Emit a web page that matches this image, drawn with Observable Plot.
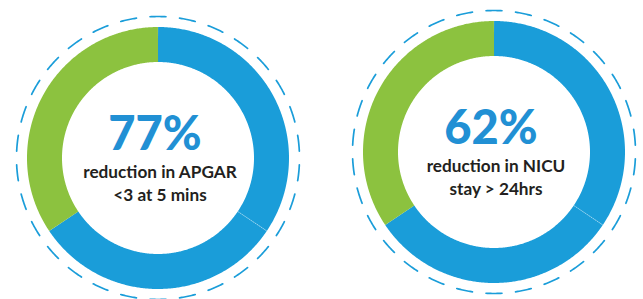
<!DOCTYPE html>
<html>
<head>
<meta charset="utf-8">
<script src="https://cdn.jsdelivr.net/npm/d3@7"></script>
<script src="https://cdn.jsdelivr.net/npm/@observablehq/plot@0.6"></script>
<style>
  html, body { margin: 0; padding: 0; background: #ffffff; }
  #chart svg { display: block; }
</style>
</head>
<body>
<div id="chart"></div>
<script>
// ---- data ----
const donutIds = ["apgar", "nicu"];
const percentLabels = ["77%", "62%"];
const captionLine1 = ["reduction in APGAR", "reduction in NICU"];
const captionLine2 = ["<3 at 5 mins", "stay > 24hrs"];
const segmentNames = ["upper blue", "lower blue", "green"];
const segmentColors = ["#1a9dd9", "#1a9dd9", "#8cc23f"];
const segmentShares = [
  [34.4, 31.2, 34.4],
  [34.4, 31.2, 34.4]
];

// ---- layout (pixels) ----
const W = 643, H = 299;
const centers = [[157.5, 157.5], [493.5, 151.5]];
const rInner = 96, rOuter = 131, rDash = 141.5;
const rMid = (rInner + rOuter) / 2;
const ringWidth = rOuter - rInner;

const pt = (c, r, deg) => {
  const a = deg * Math.PI / 180;
  return {x: c[0] + r * Math.sin(a), y: c[1] - r * Math.cos(a)};
};

// ring segments as thick arcs
const arcRows = [];
const sepRows = [];
donutIds.forEach((id, i) => {
  const total = d3.sum(segmentShares[i]);
  let acc = 0;
  segmentShares[i].forEach((v, j) => {
    const a0 = acc / total * 360, a1 = (acc + v) / total * 360;
    const n = Math.max(2, Math.ceil(a1 - a0) * 2);
    for (let k = 0; k <= n; k++) {
      const p = pt(centers[i], rMid, a0 + (a1 - a0) * k / n);
      arcRows.push({key: id + "-" + j, color: segmentColors[j], ...p});
    }
    if (j === 0) {
      const p0 = pt(centers[i], rInner, a1), p1 = pt(centers[i], rOuter, a1);
      sepRows.push({x1: p0.x, y1: p0.y, x2: p1.x, y2: p1.y});
    }
    acc += v;
  });
});

// dashed outer circles
const dashRows = [];
const nDash = 30;
const circ = 2 * Math.PI * rDash;
const period = circ / nDash;
const dashLen = 16;
donutIds.forEach((id, i) => {
  const start = -(dashLen / 2) / rDash * 180 / Math.PI;
  for (let k = 0; k <= 720; k++) {
    dashRows.push({key: id, ...pt(centers[i], rDash, start + k / 2)});
  }
});

const textRows = donutIds.map((id, i) => ({
  id, pct: percentLabels[i], l1: captionLine1[i], l2: captionLine2[i],
  cx: centers[i][0], cy: centers[i][1]
}));

const chart = Plot.plot({
  width: W, height: H,
  margin: 0,
  x: {domain: [0, W], axis: null},
  y: {domain: [0, H], reverse: true, axis: null},
  style: {background: "#ffffff"},
  marks: [
    Plot.line(dashRows, {x: "x", y: "y", z: "key", stroke: "#1a9dd9", strokeWidth: 1.7,
      strokeDasharray: `${dashLen},${(period - dashLen).toFixed(3)}`}),
    Plot.line(arcRows, {x: "x", y: "y", z: "key", stroke: "color", strokeWidth: ringWidth,
      strokeLinecap: "butt", strokeLinejoin: "round"}),
    Plot.link(sepRows, {x1: "x1", y1: "y1", x2: "x2", y2: "y2", stroke: "#ffffff",
      strokeOpacity: 0.55, strokeWidth: 0.8, strokeDasharray: "1.5,0.8"}),
    Plot.text(textRows, {x: "cx", y: "cy", text: "pct", dx: -3, dy: -8.5,
      fill: "#2190d4", fontSize: 47, fontWeight: 900, fontFamily: "Lato",
      textAnchor: "middle", lineAnchor: "bottom"}),
    Plot.text(textRows, {x: "cx", y: "cy", text: "l1", dx: 2, dy: 20,
      fill: "#231f20", fontSize: 17.2, fontWeight: 700, fontFamily: "Lato",
      textAnchor: "middle", lineAnchor: "bottom"}),
    Plot.text(textRows, {x: "cx", y: "cy", text: "l2", dx: 2, dy: 43,
      fill: "#231f20", fontSize: 17.2, fontWeight: 700, fontFamily: "Lato",
      textAnchor: "middle", lineAnchor: "bottom"})
  ]
});
document.getElementById("chart").appendChild(chart);
</script>
</body>
</html>
